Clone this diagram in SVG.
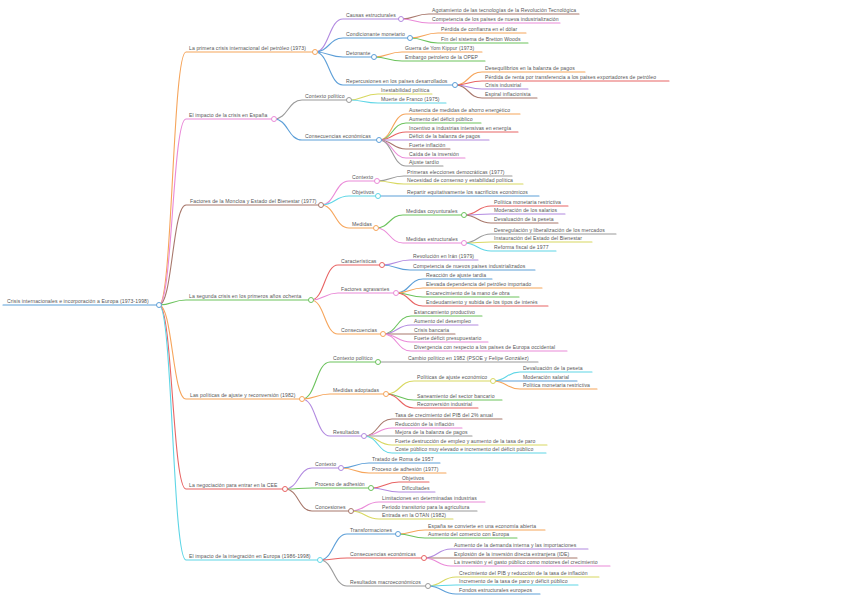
<svg xmlns="http://www.w3.org/2000/svg" width="848" height="599" viewBox="0 0 848 599">
<style>
text{font-family:"Liberation Sans",Arial,sans-serif;font-size:5.1px;fill:#555;letter-spacing:0.1px}
path{fill:none;stroke-width:1.1;stroke-linecap:round}
circle{fill:#fff;stroke-width:1;r:2.5}
.or{stroke:#f6a55b}.bl{stroke:#5d9fd8}.pu{stroke:#b28ae0}.pk{stroke:#ea8ad8}.gr{stroke:#6cc35d}
.rd{stroke:#e86464}.br{stroke:#a8786c}.gy{stroke:#9a9a9a}.ye{stroke:#d8d860}.cy{stroke:#5fd6e6}
</style>
<rect width="848" height="599" fill="#fff"/>
<g id="connectors">
<path class="bl" d="M3 305H159" stroke-width="1.5"/>
<path class="or" d="M159 305C172.5 305 172.5 52 186 52H315"/>
<path class="pk" d="M159 305C172.5 305 172.5 119 186 119H274"/>
<path class="br" d="M159 305C172.5 305 172.5 205 186 205H321"/>
<path class="gr" d="M159 305C172.5 305 172.5 300 186 300H311"/>
<path class="or" d="M159 305C172.5 305 172.5 399 186 399H302"/>
<path class="rd" d="M159 305C172.5 305 172.5 489 186 489H285"/>
<path class="cy" d="M159 305C172.5 305 172.5 560 186 560H320"/>
<path class="pu" d="M315 52C329 52 329 19 343 19H401"/>
<path class="bl" d="M315 52C329 52 329 38 343 38H410"/>
<path class="bl" d="M315 52C329 52 329 57 343 57H374"/>
<path class="bl" d="M315 52C329 52 329 85 343 85H455"/>
<path class="br" d="M401 19C415 19 415 14 429 14H579"/>
<path class="pk" d="M401 19C415 19 415 23 429 23H560"/>
<path class="or" d="M410 38C424 38 424 33 438 33H526"/>
<path class="gr" d="M410 38C424 38 424 43 438 43H528"/>
<path class="or" d="M374 57C388 57 388 52 402 52H482"/>
<path class="gr" d="M374 57C388 57 388 61 402 61H485"/>
<path class="or" d="M455 85C468.5 85 468.5 72 482 72H585"/>
<path class="rd" d="M455 85C468.5 85 468.5 81 482 81H669"/>
<path class="pu" d="M455 85C468.5 85 468.5 89 482 89H528"/>
<path class="br" d="M455 85C468.5 85 468.5 98 482 98H537"/>
<path class="gy" d="M274 119C288 119 288 100 302 100H349"/>
<path class="bl" d="M274 119C288 119 288 140 302 140H379"/>
<path class="ye" d="M349 100C363.5 100 363.5 94 378 94H432"/>
<path class="cy" d="M349 100C363.5 100 363.5 103 378 103H446"/>
<path class="or" d="M379 140C392.5 140 392.5 114 406 114H520"/>
<path class="gr" d="M379 140C392.5 140 392.5 123 406 123H481"/>
<path class="rd" d="M379 140C392.5 140 392.5 132 406 132H518"/>
<path class="pu" d="M379 140C392.5 140 392.5 140 406 140H489"/>
<path class="br" d="M379 140C392.5 140 392.5 149 406 149H450"/>
<path class="pk" d="M379 140C392.5 140 392.5 158 406 158H465"/>
<path class="gy" d="M379 140C392.5 140 392.5 166 406 166H443"/>
<path class="pk" d="M321 205C335 205 335 181 349 181H377"/>
<path class="cy" d="M321 205C335 205 335 196 349 196H378"/>
<path class="or" d="M321 205C335 205 335 228 349 228H376"/>
<path class="gy" d="M377 181C390.5 181 390.5 176 404 176H512"/>
<path class="ye" d="M377 181C390.5 181 390.5 184 404 184H523"/>
<path class="bl" d="M378 196H539"/>
<path class="gr" d="M376 228C389.5 228 389.5 215 403 215H464"/>
<path class="pk" d="M376 228C389.5 228 389.5 243 403 243H464"/>
<path class="rd" d="M464 215C477.5 215 477.5 206 491 206H568"/>
<path class="pu" d="M464 215C477.5 215 477.5 214 491 214H565"/>
<path class="br" d="M464 215C477.5 215 477.5 223 491 223H558"/>
<path class="gy" d="M464 243C477.5 243 477.5 234 491 234H616"/>
<path class="ye" d="M464 243C477.5 243 477.5 242 491 242H592"/>
<path class="cy" d="M464 243C477.5 243 477.5 251 491 251H556"/>
<path class="rd" d="M311 300C324.5 300 324.5 265 338 265H382"/>
<path class="pk" d="M311 300C324.5 300 324.5 293 338 293H396"/>
<path class="or" d="M311 300C324.5 300 324.5 334 338 334H383"/>
<path class="pu" d="M382 265C396 265 396 260 410 260H478"/>
<path class="bl" d="M382 265C396 265 396 270 410 270H535"/>
<path class="bl" d="M396 293C409.5 293 409.5 279 423 279H492"/>
<path class="or" d="M396 293C409.5 293 409.5 288 423 288H542"/>
<path class="gr" d="M396 293C409.5 293 409.5 297 423 297H519"/>
<path class="rd" d="M396 293C409.5 293 409.5 306 423 306H548"/>
<path class="gr" d="M383 334C397 334 397 316 411 316H482"/>
<path class="pu" d="M383 334C397 334 397 325 411 325H478"/>
<path class="br" d="M383 334C397 334 397 334 411 334H455"/>
<path class="pk" d="M383 334C397 334 397 342 411 342H488"/>
<path class="pk" d="M383 334C397 334 397 351 411 351H567"/>
<path class="gr" d="M302 399C316 399 316 362 330 362H378"/>
<path class="or" d="M302 399C316 399 316 394 330 394H386"/>
<path class="pu" d="M302 399C316 399 316 436 330 436H364"/>
<path class="gy" d="M378 362H538"/>
<path class="ye" d="M386 394C400 394 400 381 414 381H493"/>
<path class="gr" d="M386 394C400 394 400 400 414 400H502"/>
<path class="rd" d="M386 394C400 394 400 408 414 408H478"/>
<path class="cy" d="M493 381C506.5 381 506.5 372 520 372H592"/>
<path class="bl" d="M493 381H577"/>
<path class="or" d="M493 381C506.5 381 506.5 389 520 389H597"/>
<path class="br" d="M364 436C378 436 378 419 392 419H502"/>
<path class="pk" d="M364 436C378 436 378 428 392 428H462"/>
<path class="gy" d="M364 436H472"/>
<path class="ye" d="M364 436C378 436 378 445 392 445H547"/>
<path class="cy" d="M364 436C378 436 378 453 392 453H546"/>
<path class="pu" d="M285 489C298.5 489 298.5 468 312 468H341"/>
<path class="gr" d="M285 489C298.5 489 298.5 488 312 488H371"/>
<path class="br" d="M285 489C298.5 489 298.5 511 312 511H351"/>
<path class="bl" d="M341 468C355 468 355 463 369 463H440"/>
<path class="or" d="M341 468C355 468 355 473 369 473H446"/>
<path class="rd" d="M371 488C385 488 385 482 399 482H429"/>
<path class="pu" d="M371 488C385 488 385 492 399 492H435"/>
<path class="pk" d="M351 511C365 511 365 502 379 502H485"/>
<path class="gy" d="M351 511H477"/>
<path class="ye" d="M351 511C365 511 365 519 379 519H453"/>
<path class="bl" d="M320 560C333.5 560 333.5 534 347 534H398"/>
<path class="rd" d="M320 560C333.5 560 333.5 558 347 558H424"/>
<path class="gy" d="M320 560C333.5 560 333.5 586 347 586H428"/>
<path class="or" d="M398 534C411.5 534 411.5 530 425 530H545"/>
<path class="gr" d="M398 534C411.5 534 411.5 538 425 538H517"/>
<path class="pu" d="M424 558C437.5 558 437.5 549 451 549H588"/>
<path class="br" d="M424 558H577"/>
<path class="pk" d="M424 558C437.5 558 437.5 566 451 566H610"/>
<path class="ye" d="M428 586C442 586 442 577 456 577H599"/>
<path class="cy" d="M428 586C442 586 442 585 456 585H578"/>
<path class="bl" d="M428 586C442 586 442 594 456 594H540"/>
</g>
<g id="root"><text x="7" y="302.5">Crisis internacionales e incorporación a Europa (1973-1998)</text><circle class="bl" cx="159" cy="305"/></g>
<g id="n-a"><text x="189" y="50">La primera crisis internacional del petróleo (1973)</text><circle class="or" cx="315" cy="52"/></g>
<g id="n-a1"><text x="346" y="17">Causas estructurales</text><circle class="pu" cx="401" cy="19"/></g>
<g id="n-a1a"><text x="432" y="12">Agotamiento de las tecnologías de la Revolución Tecnológica</text></g>
<g id="n-a1b"><text x="432" y="21">Competencia de los países de nueva industrialización</text></g>
<g id="n-a2"><text x="346" y="36">Condicionante monetario</text><circle class="bl" cx="410" cy="38"/></g>
<g id="n-a2a"><text x="441" y="31">Pérdida de confianza en el dólar</text></g>
<g id="n-a2b"><text x="441" y="41">Fin del sistema de Bretton Woods</text></g>
<g id="n-a3"><text x="346" y="55">Detonante</text><circle class="bl" cx="374" cy="57"/></g>
<g id="n-a3a"><text x="405" y="50">Guerra de Yom Kippur (1973)</text></g>
<g id="n-a3b"><text x="405" y="59">Embargo petrolero de la OPEP</text></g>
<g id="n-a4"><text x="346" y="83">Repercusiones en los países desarrollados</text><circle class="bl" cx="455" cy="85"/></g>
<g id="n-a4a"><text x="485" y="70">Desequilibrios en la balanza de pagos</text></g>
<g id="n-a4b"><text x="485" y="79">Pérdida de renta por transferencia a los países exportadores de petróleo</text></g>
<g id="n-a4c"><text x="485" y="87">Crisis industrial</text></g>
<g id="n-a4d"><text x="485" y="96">Espiral inflacionista</text></g>
<g id="n-b"><text x="189" y="117">El impacto de la crisis en España</text><circle class="pk" cx="274" cy="119"/></g>
<g id="n-b1"><text x="305" y="98">Contexto político</text><circle class="gy" cx="349" cy="100"/></g>
<g id="n-b1a"><text x="381" y="92">Inestabilidad política</text></g>
<g id="n-b1b"><text x="381" y="101">Muerte de Franco (1975)</text></g>
<g id="n-b2"><text x="305" y="138">Consecuencias económicas</text><circle class="bl" cx="379" cy="140"/></g>
<g id="n-b2a"><text x="409" y="112">Ausencia de medidas de ahorro energético</text></g>
<g id="n-b2b"><text x="409" y="121">Aumento del déficit público</text></g>
<g id="n-b2c"><text x="409" y="130">Incentivo a industrias intensivas en energía</text></g>
<g id="n-b2d"><text x="409" y="138">Déficit de la balanza de pagos</text></g>
<g id="n-b2e"><text x="409" y="147">Fuerte inflación</text></g>
<g id="n-b2f"><text x="409" y="156">Caída de la inversión</text></g>
<g id="n-b2g"><text x="409" y="164">Ajuste tardío</text></g>
<g id="n-c"><text x="190" y="203">Factores de la Moncloa y Estado del Bienestar (1977)</text><circle class="br" cx="321" cy="205"/></g>
<g id="n-c1"><text x="352" y="179">Contexto</text><circle class="pk" cx="377" cy="181"/></g>
<g id="n-c1a"><text x="407" y="174">Primeras elecciones democráticas (1977)</text></g>
<g id="n-c1b"><text x="407" y="182">Necesidad de consenso y estabilidad política</text></g>
<g id="n-c2"><text x="352" y="194">Objetivos</text><circle class="cy" cx="378" cy="196"/></g>
<g id="n-c2a"><text x="407" y="194">Repartir equitativamente los sacrificios económicos</text></g>
<g id="n-c3"><text x="352" y="226">Medidas</text><circle class="or" cx="376" cy="228"/></g>
<g id="n-c3a"><text x="406" y="213">Medidas coyunturales</text><circle class="gr" cx="464" cy="215"/></g>
<g id="n-c3a1"><text x="494" y="204">Política monetaria restrictiva</text></g>
<g id="n-c3a2"><text x="494" y="212">Moderación de los salarios</text></g>
<g id="n-c3a3"><text x="494" y="221">Devaluación de la peseta</text></g>
<g id="n-c3b"><text x="406" y="241">Medidas estructurales</text><circle class="pk" cx="464" cy="243"/></g>
<g id="n-c3b1"><text x="494" y="232">Desregulación y liberalización de los mercados</text></g>
<g id="n-c3b2"><text x="494" y="240">Instauración del Estado del Bienestar</text></g>
<g id="n-c3b3"><text x="494" y="249">Reforma fiscal de 1977</text></g>
<g id="n-d"><text x="189" y="298">La segunda crisis en los primeros años ochenta</text><circle class="gr" cx="311" cy="300"/></g>
<g id="n-d1"><text x="341" y="263">Características</text><circle class="rd" cx="382" cy="265"/></g>
<g id="n-d1a"><text x="413" y="258">Revolución en Irán (1979)</text></g>
<g id="n-d1b"><text x="413" y="268">Competencia de nuevos países industrializados</text></g>
<g id="n-d2"><text x="341" y="291">Factores agravantes</text><circle class="pk" cx="396" cy="293"/></g>
<g id="n-d2a"><text x="426" y="277">Reacción de ajuste tardía</text></g>
<g id="n-d2b"><text x="426" y="286">Elevada dependencia del petróleo importado</text></g>
<g id="n-d2c"><text x="426" y="295">Encarecimiento de la mano de obra</text></g>
<g id="n-d2d"><text x="426" y="304">Endeudamiento y subida de los tipos de interés</text></g>
<g id="n-d3"><text x="341" y="332">Consecuencias</text><circle class="or" cx="383" cy="334"/></g>
<g id="n-d3a"><text x="414" y="314">Estancamiento productivo</text></g>
<g id="n-d3b"><text x="414" y="323">Aumento del desempleo</text></g>
<g id="n-d3c"><text x="414" y="332">Crisis bancaria</text></g>
<g id="n-d3d"><text x="414" y="340">Fuerte déficit presupuestario</text></g>
<g id="n-d3e"><text x="414" y="349">Divergencia con respecto a los países de Europa occidental</text></g>
<g id="n-e"><text x="190" y="397">Las políticas de ajuste y reconversión (1982)</text><circle class="or" cx="302" cy="399"/></g>
<g id="n-e1"><text x="333" y="360">Contexto político</text><circle class="gr" cx="378" cy="362"/></g>
<g id="n-e1a"><text x="408" y="360">Cambio político en 1982 (PSOE y Felipe González)</text></g>
<g id="n-e2"><text x="333" y="392">Medidas adoptadas</text><circle class="or" cx="386" cy="394"/></g>
<g id="n-e2a"><text x="417" y="379">Políticas de ajuste económico</text><circle class="ye" cx="493" cy="381"/></g>
<g id="n-e2a1"><text x="523" y="370">Devaluación de la peseta</text></g>
<g id="n-e2a2"><text x="523" y="379">Moderación salarial</text></g>
<g id="n-e2a3"><text x="523" y="387">Política monetaria restrictiva</text></g>
<g id="n-e2b"><text x="417" y="398">Saneamiento del sector bancario</text></g>
<g id="n-e2c"><text x="417" y="406">Reconversión industrial</text></g>
<g id="n-e3"><text x="333" y="434">Resultados</text><circle class="pu" cx="364" cy="436"/></g>
<g id="n-e3a"><text x="395" y="417">Tasa de crecimiento del PIB del 2% anual</text></g>
<g id="n-e3b"><text x="395" y="426">Reducción de la inflación</text></g>
<g id="n-e3c"><text x="395" y="434">Mejora de la balanza de pagos</text></g>
<g id="n-e3d"><text x="395" y="443">Fuerte destrucción de empleo y aumento de la tasa de paro</text></g>
<g id="n-e3e"><text x="395" y="451">Coste público muy elevado e incremento del déficit público</text></g>
<g id="n-f"><text x="189" y="487">La negociación para entrar en la CEE</text><circle class="rd" cx="285" cy="489"/></g>
<g id="n-f1"><text x="315" y="466">Contexto</text><circle class="pu" cx="341" cy="468"/></g>
<g id="n-f1a"><text x="372" y="461">Tratado de Roma de 1957</text></g>
<g id="n-f1b"><text x="372" y="471">Proceso de adhesión (1977)</text></g>
<g id="n-f2"><text x="315" y="486">Proceso de adhesión</text><circle class="gr" cx="371" cy="488"/></g>
<g id="n-f2a"><text x="402" y="480">Objetivos</text></g>
<g id="n-f2b"><text x="402" y="490">Dificultades</text></g>
<g id="n-f3"><text x="315" y="509">Concesiones</text><circle class="br" cx="351" cy="511"/></g>
<g id="n-f3a"><text x="382" y="500">Limitaciones en determinadas industrias</text></g>
<g id="n-f3b"><text x="382" y="509">Periodo transitorio para la agricultura</text></g>
<g id="n-f3c"><text x="382" y="517">Entrada en la OTAN (1982)</text></g>
<g id="n-g"><text x="189" y="558">El impacto de la integración en Europa (1986-1998)</text><circle class="cy" cx="320" cy="560"/></g>
<g id="n-g1"><text x="350" y="532">Transformaciones</text><circle class="bl" cx="398" cy="534"/></g>
<g id="n-g1a"><text x="428" y="528">España se convierte en una economía abierta</text></g>
<g id="n-g1b"><text x="428" y="536">Aumento del comercio con Europa</text></g>
<g id="n-g2"><text x="350" y="556">Consecuencias económicas</text><circle class="rd" cx="424" cy="558"/></g>
<g id="n-g2a"><text x="454" y="547">Aumento de la demanda interna y las importaciones</text></g>
<g id="n-g2b"><text x="454" y="556">Explosión de la inversión directa extranjera (IDE)</text></g>
<g id="n-g2c"><text x="454" y="564">La inversión y el gasto público como motores del crecimiento</text></g>
<g id="n-g3"><text x="350" y="584">Resultados macroeconómicos</text><circle class="gy" cx="428" cy="586"/></g>
<g id="n-g3a"><text x="459" y="575">Crecimiento del PIB y reducción de la tasa de inflación</text></g>
<g id="n-g3b"><text x="459" y="583">Incremento de la tasa de paro y déficit público</text></g>
<g id="n-g3c"><text x="459" y="592">Fondos estructurales europeos</text></g>
</svg>
